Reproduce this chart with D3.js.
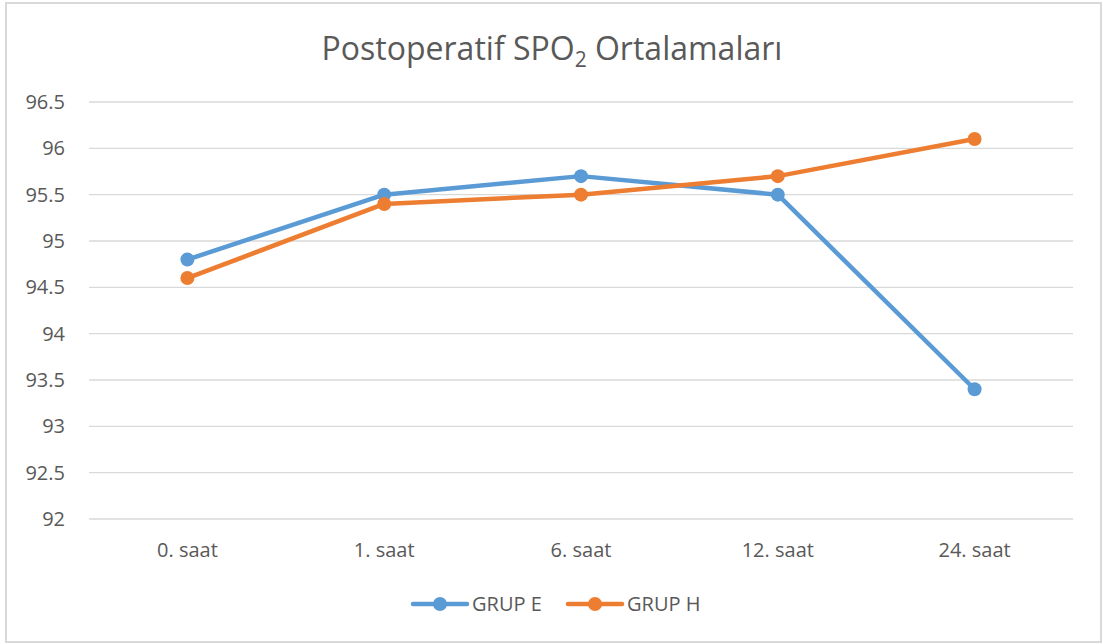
<!DOCTYPE html>
<html>
  <head>
    <meta charset="utf-8" />
    <title>Postoperatif SPO2</title>
    <script src="https://cdn.jsdelivr.net/npm/d3@7"></script>
    <style>
      body { margin: 0; background: #fff; }
      text { font-family: "Open Sans", "Lato", sans-serif; fill: #595959; }
    </style>
  </head>
  <body>
    <svg width="1103" height="644" id="mainsvg"></svg>
    <script>
      // data
      const categories = ["0. saat", "1. saat", "6. saat", "12. saat", "24. saat"];
      const grupE = [94.8, 95.5, 95.7, 95.5, 93.4];
      const grupH = [94.6, 95.4, 95.5, 95.7, 96.1];
      const yTicks = [92, 92.5, 93, 93.5, 94, 94.5, 95, 95.5, 96, 96.5];
      const seriesNames = ["GRUP E", "GRUP H"];
      const colors = ["#5B9BD5", "#ED7D31"];

      const svg = d3.select("#mainsvg");
      const margin = { left: 89, top: 102, right: 30, bottom: 125 };
      const width = 1103, height = 644;
      const fs = 20;

      // frame
      svg.append("rect")
        .attr("x", 6).attr("y", 3)
        .attr("width", 1095).attr("height", 639)
        .attr("fill", "#fff").attr("stroke", "#d9d9d9").attr("stroke-width", 2);

      const x = d3.scaleBand().domain(categories).range([margin.left, width - margin.right]);
      const y = d3.scaleLinear().domain([92, 96.5]).range([height - margin.bottom, margin.top]);

      // grid
      svg.append("g").selectAll("line")
        .data(yTicks).join("line")
        .attr("x1", margin.left).attr("x2", width - margin.right)
        .attr("y1", d => y(d)).attr("y2", d => y(d))
        .attr("stroke", "#d9d9d9").attr("stroke-width", 1.3);

      // y labels
      svg.append("g").selectAll("text")
        .data(yTicks).join("text")
        .attr("x", 65).attr("y", d => y(d)).attr("dy", "0.35em")
        .attr("text-anchor", "end").attr("font-size", fs)
        .text(d => d);

      // x labels
      svg.append("g").selectAll("text")
        .data(categories).join("text")
        .attr("x", d => x(d) + x.bandwidth() / 2).attr("y", 550).attr("dy", "0.35em")
        .attr("text-anchor", "middle").attr("font-size", fs)
        .text(d => d);

      // title
      const title = svg.append("text")
        .attr("x", 552).attr("y", 60).attr("text-anchor", "middle").attr("font-size", 32);
      title.append("tspan").text("Postoperatif SPO");
      title.append("tspan").attr("font-size", 21).attr("dy", 7).text("2");
      title.append("tspan").attr("dy", -7).text(" Ortalamaları");

      // series
      const series = [grupE, grupH];
      const line = d3.line().x((d, i) => x(categories[i]) + x.bandwidth() / 2).y(d => y(d));
      series.forEach((vals, s) => {
        const g = svg.append("g");
        g.append("path").datum(vals)
          .attr("d", line).attr("fill", "none")
          .attr("stroke", colors[s]).attr("stroke-width", 4.5).attr("stroke-linejoin", "round");
        g.selectAll("circle").data(vals).join("circle")
          .attr("cx", (d, i) => x(categories[i]) + x.bandwidth() / 2)
          .attr("cy", d => y(d)).attr("r", 7).attr("fill", colors[s]);
      });

      // legend
      const legendX = [413, 568];
      const lg = svg.append("g").selectAll("g").data(seriesNames).join("g")
        .attr("transform", (d, i) => `translate(${legendX[i]},604)`);
      lg.append("line").attr("x1", 0).attr("x2", 54).attr("y1", 0).attr("y2", 0)
        .attr("stroke", (d, i) => colors[i]).attr("stroke-width", 4.5).attr("stroke-linecap", "round");
      lg.append("circle").attr("cx", 27).attr("r", 7).attr("fill", (d, i) => colors[i]);
      lg.append("text").attr("x", 59).attr("dy", "0.35em").attr("font-size", fs).text(d => d);
    </script>
  </body>
</html>
